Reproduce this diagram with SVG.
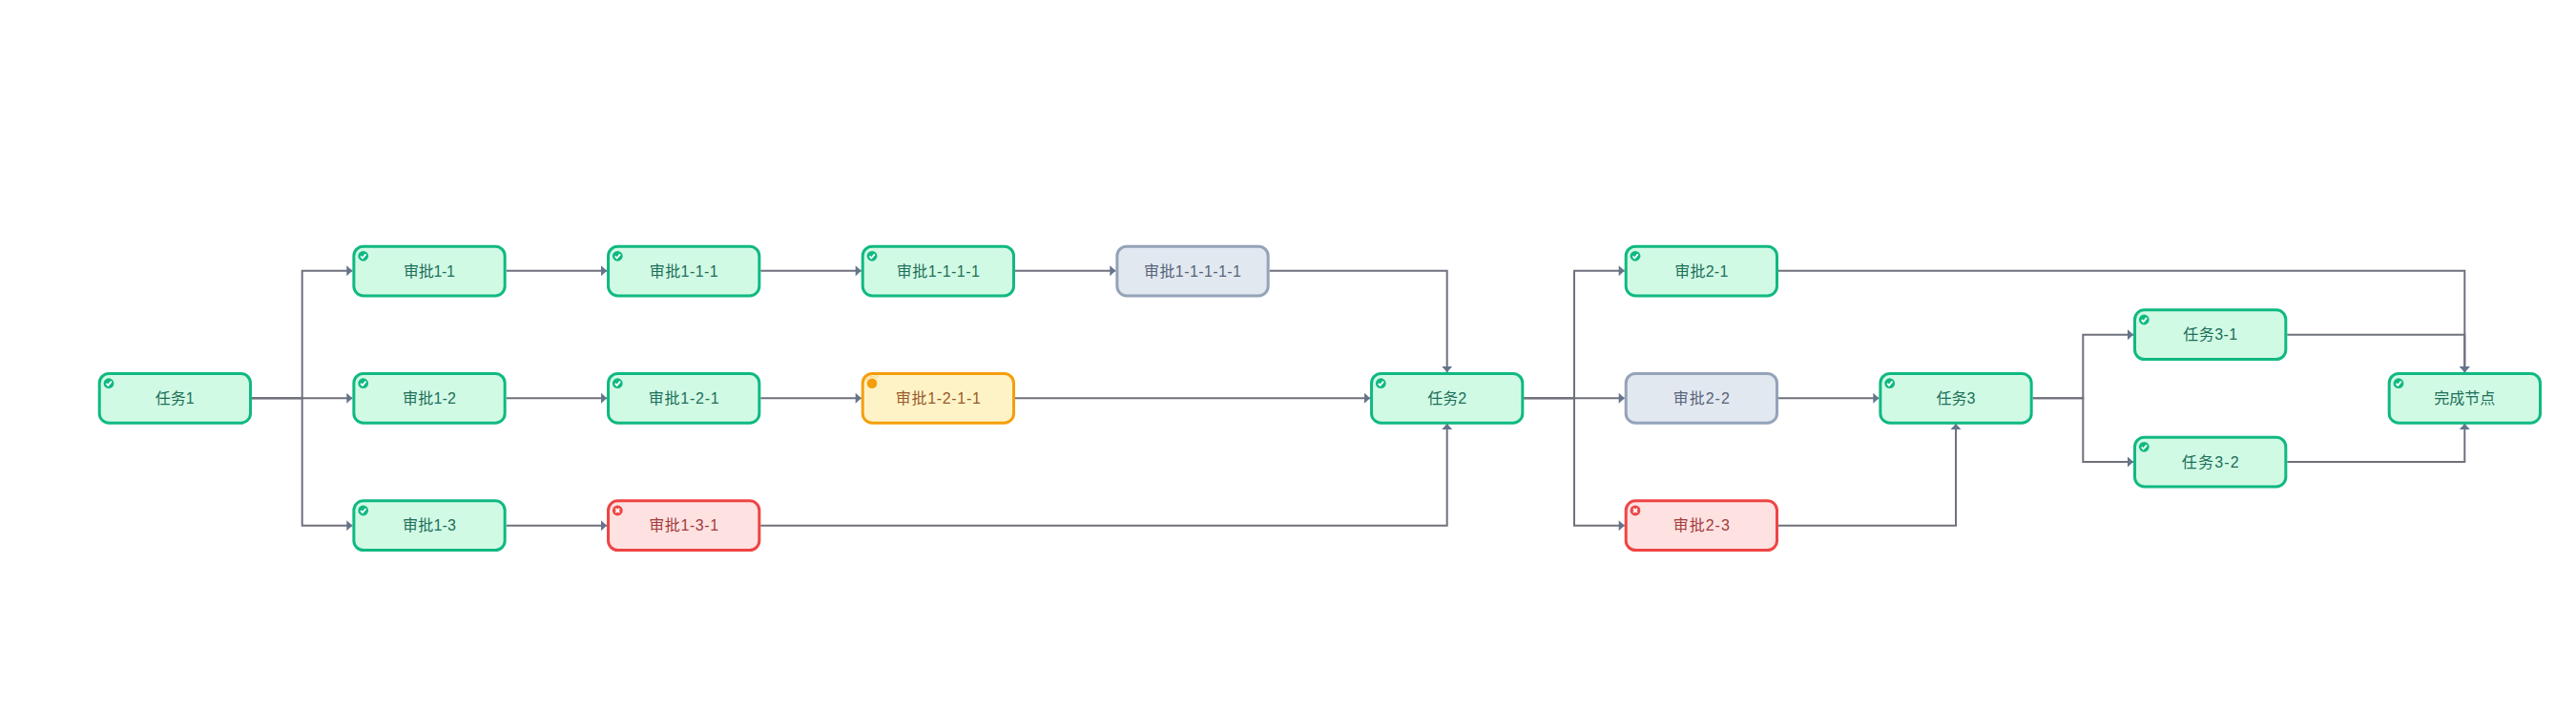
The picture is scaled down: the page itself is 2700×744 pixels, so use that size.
<svg xmlns="http://www.w3.org/2000/svg" width="2700" height="744" viewBox="0 0 2700 744">
<style>
text{font-family:"Liberation Sans","Noto Sans CJK SC",sans-serif;font-size:16px;text-anchor:middle}
.box{stroke-width:3}
.ok .box{fill:#d1fae5;stroke:#10b981}.ok text{fill:#1c6f58}
.wait .box{fill:#e2e8f0;stroke:#94a3b8}.wait text{fill:#566378}
.run .box{fill:#fef3c7;stroke:#f59e0b}.run text{fill:#9a5a2a}
.fail .box{fill:#fee2e2;stroke:#ef4444}.fail text{fill:#a33a3a}
.edge{fill:none;stroke:#6f717d;stroke-width:2;marker-end:url(#arrow)}
</style>
<defs>
<marker id="arrow" markerUnits="userSpaceOnUse" markerWidth="7" markerHeight="12" refX="6.4" refY="6" orient="auto"><path d="M0.4 0.5L6.4 6L0.4 11.5Z" fill="#64748b"/></marker>
<g id="i-ok"><circle r="5.4" fill="#10b981"/><path d="M-2.6 0.2L-0.7 2.2L2.8-2" fill="none" stroke="#fff" stroke-width="1.8"/></g>
<g id="i-fail"><circle r="5.4" fill="#ef4444"/><path d="M-2-2L2 2M2-2L-2 2" fill="none" stroke="#fff" stroke-width="1.8"/></g>
<g id="i-run"><circle r="5.3" fill="#f59e0b"/><path d="M-8-4A9 9 0 0 1 7-6" fill="none" stroke="#f59e0b" stroke-width="0.7" opacity="0.6"/><path d="M-6.5-3A7 7 0 0 1 5-4.8" fill="none" stroke="#f59e0b" stroke-width="0.7" opacity="0.6"/></g>
</defs>
<rect width="2700" height="744" fill="#fff"/>
<g id="connectors">
<path class="edge" d="M264 417.3H316.7V283.8H369.3"/>
<path class="edge" d="M264 417.3H369.3"/>
<path class="edge" d="M264 417.3H316.7V550.7H369.3"/>
<path class="edge" d="M530.7 283.8H636"/>
<path class="edge" d="M530.7 417.3H636"/>
<path class="edge" d="M530.7 550.7H636"/>
<path class="edge" d="M797.3 283.8H902.7"/>
<path class="edge" d="M797.3 417.3H902.7"/>
<path class="edge" d="M797.3 550.7H1516.7V444"/>
<path class="edge" d="M1064 283.8H1169.3"/>
<path class="edge" d="M1064 417.3H1436"/>
<path class="edge" d="M1330.7 283.8H1516.7V390"/>
<path class="edge" d="M1597.3 417.3H1650V283.8H1702.7"/>
<path class="edge" d="M1597.3 417.3H1702.7"/>
<path class="edge" d="M1597.3 417.3H1650V550.7H1702.7"/>
<path class="edge" d="M1864 283.8H2583.3V390"/>
<path class="edge" d="M1864 417.3H1969.3"/>
<path class="edge" d="M1864 550.7H2050V444"/>
<path class="edge" d="M2130.7 417.3H2183.3V350.7H2236"/>
<path class="edge" d="M2130.7 417.3H2183.3V484H2236"/>
<path class="edge" d="M2397.3 350.7H2583.3V390"/>
<path class="edge" d="M2397.3 484H2583.3V444"/>
</g>
<g id="task1" class="ok"><rect class="box" x="104.2" y="391.5" width="158.3" height="51.7" rx="10"/><use href="#i-ok" x="114" y="401.7"/><text x="183.3" y="423">任务1</text></g>
<g id="a1-1" class="ok"><rect class="box" x="370.87" y="258.2" width="158.3" height="51.7" rx="10"/><use href="#i-ok" x="380.7" y="268.3"/><text x="450" y="289.5" textLength="54">审批1-1</text></g>
<g id="a1-2" class="ok"><rect class="box" x="370.87" y="391.5" width="158.3" height="51.7" rx="10"/><use href="#i-ok" x="380.7" y="401.7"/><text x="450" y="423" textLength="56">审批1-2</text></g>
<g id="a1-3" class="ok"><rect class="box" x="370.87" y="524.87" width="158.3" height="51.7" rx="10"/><use href="#i-ok" x="380.7" y="535"/><text x="450" y="556.3" textLength="56">审批1-3</text></g>
<g id="a1-1-1" class="ok"><rect class="box" x="637.53" y="258.2" width="158.3" height="51.7" rx="10"/><use href="#i-ok" x="647.3" y="268.3"/><text x="716.7" y="289.5" textLength="72">审批1-1-1</text></g>
<g id="a1-2-1" class="ok"><rect class="box" x="637.53" y="391.5" width="158.3" height="51.7" rx="10"/><use href="#i-ok" x="647.3" y="401.7"/><text x="716.7" y="423" textLength="74">审批1-2-1</text></g>
<g id="a1-3-1" class="fail"><rect class="box" x="637.53" y="524.87" width="158.3" height="51.7" rx="10"/><use href="#i-fail" x="647.3" y="535"/><text x="716.7" y="556.3" textLength="73">审批1-3-1</text></g>
<g id="a1-1-1-1" class="ok"><rect class="box" x="904.2" y="258.2" width="158.3" height="51.7" rx="10"/><use href="#i-ok" x="914" y="268.3"/><text x="983.3" y="289.5" textLength="87">审批1-1-1-1</text></g>
<g id="a1-2-1-1" class="run"><rect class="box" x="904.2" y="391.5" width="158.3" height="51.7" rx="10"/><use href="#i-run" x="914" y="401.7"/><text x="983.3" y="423" textLength="89">审批1-2-1-1</text></g>
<g id="a1-1-1-1-1" class="wait"><rect class="box" x="1170.87" y="258.2" width="158.3" height="51.7" rx="10"/><text x="1250" y="289.5" textLength="102">审批1-1-1-1-1</text></g>
<g id="task2" class="ok"><rect class="box" x="1437.53" y="391.5" width="158.3" height="51.7" rx="10"/><use href="#i-ok" x="1447.3" y="401.7"/><text x="1516.7" y="423">任务2</text></g>
<g id="a2-1" class="ok"><rect class="box" x="1704.2" y="258.2" width="158.3" height="51.7" rx="10"/><use href="#i-ok" x="1714" y="268.3"/><text x="1783.3" y="289.5" textLength="56">审批2-1</text></g>
<g id="a2-2" class="wait"><rect class="box" x="1704.2" y="391.5" width="158.3" height="51.7" rx="10"/><text x="1783.3" y="423" textLength="59">审批2-2</text></g>
<g id="a2-3" class="fail"><rect class="box" x="1704.2" y="524.87" width="158.3" height="51.7" rx="10"/><use href="#i-fail" x="1714" y="535"/><text x="1783.3" y="556.3" textLength="59">审批2-3</text></g>
<g id="task3" class="ok"><rect class="box" x="1970.87" y="391.5" width="158.3" height="51.7" rx="10"/><use href="#i-ok" x="1980.7" y="401.7"/><text x="2050" y="423">任务3</text></g>
<g id="task3-1" class="ok"><rect class="box" x="2237.53" y="324.87" width="158.3" height="51.7" rx="10"/><use href="#i-ok" x="2247.3" y="335"/><text x="2316.7" y="356.3" textLength="57">任务3-1</text></g>
<g id="task3-2" class="ok"><rect class="box" x="2237.53" y="458.2" width="158.3" height="51.7" rx="10"/><use href="#i-ok" x="2247.3" y="468.3"/><text x="2316.7" y="489.7" textLength="60">任务3-2</text></g>
<g id="done" class="ok"><rect class="box" x="2504.2" y="391.5" width="158.3" height="51.7" rx="10"/><use href="#i-ok" x="2514" y="401.7"/><text x="2583.3" y="423">完成节点</text></g>
</svg>
